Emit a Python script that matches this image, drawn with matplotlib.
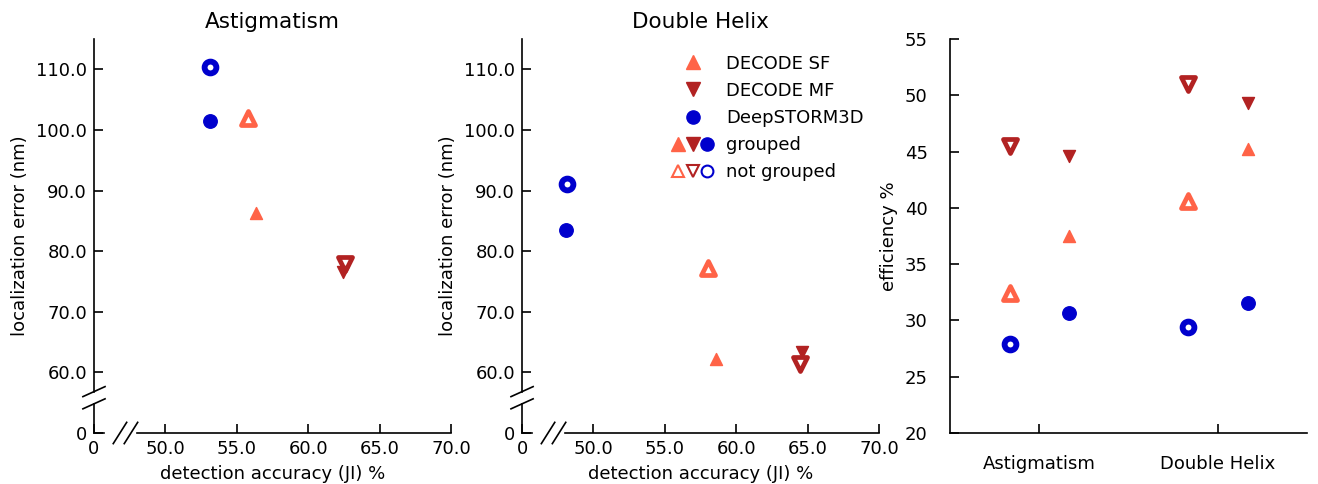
import numpy as np
import matplotlib
matplotlib.use("Agg")
import matplotlib.pyplot as plt
from matplotlib.lines import Line2D
from matplotlib.markers import MarkerStyle
from matplotlib.legend_handler import HandlerTuple

# methods, in plotting order
methods = ["DECODE SF", "DECODE MF", "DeepSTORM3D"]
colors = ["tomato", "firebrick", "mediumblue"]
markers = ["^", "v", "o"]

# Astigmatism: detection accuracy (JI %) and localization error (nm)
astig_ji_grouped = [56.35, 62.47, 53.15]
astig_rmse_grouped = [86.3, 76.6, 101.5]
astig_ji_single = [55.8, 62.6, 53.13]
astig_rmse_single = [101.9, 77.8, 110.3]

# Double Helix
dh_ji_grouped = [58.57, 64.59, 48.1]
dh_rmse_grouped = [62.2, 63.4, 83.55]
dh_ji_single = [58.0, 64.47, 48.14]
dh_rmse_single = [77.2, 61.3, 91.1]

# efficiency %
modalities = ["Astigmatism", "Double Helix"]
eff_grouped = {"Astigmatism": [37.46, 44.57, 30.66], "Double Helix": [45.2, 49.3, 31.55]}
eff_single = {"Astigmatism": [32.4, 45.5, 27.9], "Double Helix": [40.57, 51.0, 29.38]}

plt.rcParams['font.size'] = 13
plt.rcParams['axes.linewidth'] = 1.2

FILLED = {'o': dict(markersize=9.7, markeredgewidth=1.0),
          '^': dict(markersize=9.3, markeredgewidth=1.0),
          'v': dict(markersize=9.3, markeredgewidth=1.0)}
HOLLOW = {'o': dict(markersize=8.5, markeredgewidth=4.2),
          '^': dict(markersize=9.4, markeredgewidth=3.4),
          'v': dict(markersize=9.4, markeredgewidth=3.4)}


def draw_points(ax, xs, ys, hollow=False):
    style = HOLLOW if hollow else FILLED
    for x, y, c, m in zip(xs, ys, colors, markers):
        ax.plot(x, y, marker=MarkerStyle(m, joinstyle='round'), color=c,
                markeredgecolor=c, markerfacecolor='white' if hollow else c,
                linestyle='none', clip_on=False, **style[m])


def broken_axes(ax):
    # spines with a gap, "0" at the origin and // marks on both axes
    for side in ['top', 'right']:
        ax.spines[side].set_visible(False)
    ax.spines['left'].set_bounds(50 + 0.105 * 65, 115)
    ax.spines['bottom'].set_bounds(45 + 0.12 * 25, 70)
    kw = dict(transform=ax.transAxes, color='k', lw=1.2, clip_on=False)
    ax.plot([0, 0], [0, 0.074], **kw)
    ax.plot([0, 0.028], [0, 0], **kw)
    for yc in [0.105, 0.074]:
        ax.plot([-0.031, 0.031], [yc - 0.0127, yc + 0.0127], **kw)
    for xc in [0.0728, 0.1036]:
        ax.plot([xc - 0.0188, xc + 0.0188], [-0.027, 0.027], **kw)

    ax.set_xlim(45, 70)
    ax.set_ylim(50, 115)
    xt = [45, 50, 55, 60, 65, 70]
    ax.set_xticks(xt)
    ax.set_xticklabels(['0'] + ['%.1f' % v for v in xt[1:]])
    yt = [50, 60, 70, 80, 90, 100, 110]
    ax.set_yticks(yt)
    ax.set_yticklabels(['0'] + ['%.1f' % v for v in yt[1:]])
    ax.tick_params(direction='in', length=6.5, width=1.2, pad=5)
    ax.set_xlabel('detection accuracy (JI) %', labelpad=5)
    ax.set_ylabel('localization error (nm)', labelpad=5)


fig = plt.figure(figsize=(13.18, 4.84), dpi=100)
ax1 = fig.add_axes([0.0713, 0.1054, 0.2709, 0.814])
ax2 = fig.add_axes([0.3961, 0.1054, 0.2709, 0.814])
ax3 = fig.add_axes([0.7208, 0.1054, 0.2711, 0.814])

for ax, title, jg, rg, js, rs in [
        (ax1, 'Astigmatism', astig_ji_grouped, astig_rmse_grouped, astig_ji_single, astig_rmse_single),
        (ax2, 'Double Helix', dh_ji_grouped, dh_rmse_grouped, dh_ji_single, dh_rmse_single)]:
    broken_axes(ax)
    draw_points(ax, js, rs, hollow=True)
    draw_points(ax, jg, rg)
    ax.set_title(title, fontsize=15.5, pad=8)

# efficiency per modality: not grouped left, grouped right of the tick
ind = np.arange(len(modalities))
off = 1.0 / 6
for i, mod in enumerate(modalities):
    draw_points(ax3, [ind[i] - off] * 3, eff_single[mod], hollow=True)
    draw_points(ax3, [ind[i] + off] * 3, eff_grouped[mod])
ax3.set_xlim(-0.5, 1.5)
ax3.set_ylim(20, 55)
ax3.set_xticks(ind)
ax3.set_xticklabels(modalities)
ax3.set_yticks(np.arange(20, 56, 5))
for side in ['top', 'right']:
    ax3.spines[side].set_visible(False)
ax3.tick_params(direction='in', length=6.5, width=1.2, pad=16)
ax3.set_ylabel('efficiency %', labelpad=5)

# legend
lg = dict(markersize=9.5, markeredgewidth=1.0, linestyle='none')
lh = dict(markersize=8.5, markeredgewidth=1.5, markerfacecolor='white', linestyle='none')
solo = [Line2D([], [], marker=m, color=c, **lg) for c, m in zip(colors, markers)]
grouped = tuple(Line2D([], [], marker=m, color=c, **lg) for c, m in zip(colors, markers))
single = tuple(Line2D([], [], marker=m, color=c, markeredgecolor=c, **lh) for c, m in zip(colors, markers))
ax2.legend(solo + [grouped, single], methods + ['grouped', 'not grouped'],
           handler_map={tuple: HandlerTuple(ndivide=None, pad=0)},
           loc='upper left', bbox_to_anchor=(0.417, 0.96), frameon=False,
           borderaxespad=0, borderpad=0, handlelength=2.4, handletextpad=0.65,
           labelspacing=0.5)

plt.savefig('out.png', dpi=100)
